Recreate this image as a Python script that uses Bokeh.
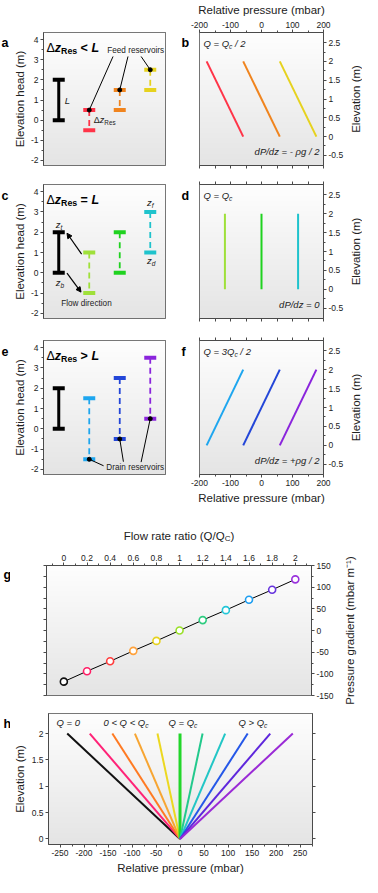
import numpy as np
from bokeh.plotting import figure
from bokeh.models import Range1d, LinearAxis, FixedTicker, Label, Arrow, NormalHead, Plot
from bokeh.layouts import column, row
from bokeh.embed import file_html
from bokeh.resources import INLINE

FONT = "Liberation Sans"
INK = "#222222"
FRAME = "#4a4a4a"
HAS_FRAME_ALIGN = "frame_align" in Plot.properties()

# ---------------- data ----------------
# a, c, e : channel (black I-beam) and reservoir pairs -- elevation head (m)
channel_pos = [1]
channel_bottom = [0]
channel_top = [2]
reservoir_pos = [2, 3, 4]
a_feed = [0.5, 1.5, 2.5]
a_drain = [-0.5, 0.5, 1.5]
c_feed = [1, 2, 3]
c_drain = [-1, 0, 1]
e_feed = [1.5, 2.5, 3.5]
e_drain = [-1.5, -0.5, 0.5]
a_colors = ["#ff3448", "#f0841e", "#e6d21e"]
c_colors = ["#9fe03a", "#1fd21f", "#1fc3cc"]
e_colors = ["#1ea6ef", "#2346d8", "#8a24dc"]
head_ticks = [-2, -1, 0, 1, 2, 3, 4]
head_labels = ["-2", "-1", "0", "1", "2", "3", "4"]
head_minor = [-1.5, -0.5, 0.5, 1.5, 2.5, 3.5]

# annotation anchors (data units of panels a, c, e)
feed_text_xy = (2.59, 3.48)
feed_ptr_x = [2.78, 3.27, 3.70]
feed_ptr_y = [3.16, 3.16, 3.16]
drain_text_xy = (2.56, -1.90)
drain_ptr_x = [2.47, 3.12, 3.70]
drain_ptr_y = [-1.82, -1.62, -1.64]
flow_arrow_start = [(1.75, 0.92), (1.27, -0.02)]
flow_arrow_end = [(1.27, 1.95), (1.73, -0.95)]

# b, d, f : pressure profiles along the channel (mbar) at z = 0 and z = 2 m
profile_z = [0, 2]
b_p_bottom = [-59, 59, 177]
b_p_top = [-177, -59, 59]
d_p_bottom = [-118, 0, 118]
d_p_top = [-118, 0, 118]
f_p_bottom = [-177, -59, 59]
f_p_top = [-59, 59, 177]
press_ticks = [-200, -100, 0, 100, 200]
press_labels = ["-200", "-100", "0", "100", "200"]
press_minor = [-150, -50, 50, 150]
elev_ticks = [-0.5, 0, 0.5, 1, 1.5, 2, 2.5]
elev_labels = ["-0.5", "0", "0.5", "1", "1.5", "2", "2.5"]
elev_minor = [-0.25, 0.25, 0.75, 1.25, 1.75, 2.25]

# g : pressure gradient vs flow-rate ratio
flow_ratio = [0, 0.2, 0.4, 0.6, 0.8, 1.0, 1.2, 1.4, 1.6, 1.8, 2.0]
gradient = [-118, -94, -71, -47, -24, 0, 24, 47, 71, 94, 118]
g_colors = ["#111111", "#ff1f66", "#ff3d3d", "#ffa23c", "#e6d21e", "#9ae02a",
            "#2fcc80", "#22c6d8", "#1e9ef0", "#6633dd", "#9a33dd"]
ratio_ticks = [0, 0.2, 0.4, 0.6, 0.8, 1.0, 1.2, 1.4, 1.6, 1.8, 2.0]
ratio_labels = ["0", "0.2", "0.4", "0.6", "0.8", "1", "1.2", "1.4", "1.6", "1.8", "2"]
ratio_minor = [-0.1, 0.1, 0.3, 0.5, 0.7, 0.9, 1.1, 1.3, 1.5, 1.7, 1.9, 2.1]
grad_ticks = [-150, -100, -50, 0, 50, 100, 150]
grad_labels = ["-150", "-100", "-50", "0", "50", "100", "150"]
grad_minor = [-125, -75, -25, 25, 75, 125]

# h : pressure profiles (0 at z = 0 m, value at z = 2 m)
h_bottom_pressure = [0, 0, 0, 0, 0, 0, 0, 0, 0, 0, 0]
h_top_pressure = [-235, -188, -141, -94, -47, 0, 47, 94, 141, 188, 235]
h_colors = ["#111111", "#ff2277", "#ff7a22", "#f7a532", "#ecd820", "#22d62a",
            "#22c98c", "#22c6c6", "#2457e8", "#5e26dc", "#9a2ad6"]
h_widths = [2, 2, 2, 2, 2, 3, 2, 2, 2, 2, 2]
hx_ticks = [-250, -200, -150, -100, -50, 0, 50, 100, 150, 200, 250]
hx_labels = ["-250", "-200", "-150", "-100", "-50", "0", "50", "100", "150", "200", "250"]
hx_minor = [-225, -175, -125, -75, -25, 25, 75, 125, 175, 225, 275]
hy_ticks = [0, 0.5, 1, 1.5, 2]
hy_labels = ["0", "0.5", "1", "1.5", "2"]

# ---------------- helpers ----------------
W = {' ': 278, '(': 333, ')': 333, '+': 584, '-': 333, '/': 278, '.': 278,
     '<': 584, '=': 584, '>': 584, 'C': 722, 'D': 722, 'F': 611, 'L': 556,
     'P': 667, 'Q': 778, 'R': 722, 'a': 556, 'b': 556, 'c': 500, 'd': 556,
     'e': 556, 'f': 278, 'g': 556, 'i': 222, 'l': 222, 'm': 833, 'n': 556,
     'o': 556, 'r': 333, 's': 500, 't': 278, 'u': 556, 'v': 500, 'w': 722,
     'z': 500, 'Δ': 668, 'ρ': 578}
WB = dict(W, L=611, s=556, r=389, i=278, l=278, t=333, c=556)
for d_ in "0123456789":
    W[d_] = 556
    WB[d_] = 556


def tw(s, size, bold=False):
    tab = WB if bold else W
    return sum(tab.get(ch, 556) for ch in s) * size / 1000.0


STY = {"n": "normal", "": "normal", "i": "italic", "b": "bold", "bi": "bold italic"}


def rich(p, x, y, parts, size, dx=0.0, dy=0.0, align="left", color=INK):
    items = []
    for text, kind in parts:
        sub = kind.startswith("sub")
        base = kind[3:] if sub else kind
        fs = size * 0.7 if sub else size
        bold = "b" in base
        core = text.strip(" ")
        lead = (len(text) - len(text.lstrip(" "))) * tw(" ", fs, bold)
        trail = (len(text) - len(text.rstrip(" "))) * tw(" ", fs, bold)
        items.append((core, fs, base, sub, lead, tw(core, fs, bold), trail))
    total = sum(it[4] + it[5] + it[6] for it in items)
    cur = dx - (total if align == "right" else total / 2 if align == "center" else 0)
    for core, fs, base, sub, lead, wcore, trail in items:
        cur += lead
        if core:
            p.add_layout(Label(x=x, y=y, x_offset=cur,
                               y_offset=dy - (0.3 * size if sub else 0),
                               text=core, text_font=FONT,
                               text_font_size=f"{fs:.1f}px",
                               text_font_style=STY[base], text_color=color,
                               text_align="left", text_baseline="middle"))
        cur += wcore + trail


def base_fig(w, h, bl, br, bt, bb, xr, yr):
    kw = {}
    if HAS_FRAME_ALIGN:
        kw["frame_align"] = False
    p = figure(width=w, height=h, x_range=Range1d(*xr), y_range=Range1d(*yr),
               x_axis_location=None, y_axis_location=None, title_location=None,
               output_backend="svg", toolbar_location=None,
               min_border_left=bl, min_border_right=br,
               min_border_top=bt, min_border_bottom=bb, **kw)
    p.grid.visible = False
    p.background_fill_color = "white"
    p.border_fill_color = "white"
    return p


def letter_fig(w, h, bt, bb, ch, x, below_top):
    fh_ = h - bt - bb
    p = base_fig(w, h, 0, 0, bt, bb, (0, w), (0, fh_))
    p.outline_line_color = None
    p.add_layout(Label(x=x, y=fh_ - below_top, text=ch, text_font=FONT,
                       text_font_size="12.5px", text_font_style="bold",
                       text_color="black", text_align="left", text_baseline="middle"))
    return p


def vlabel_fig(w, h, bt, bb, text, standoff):
    # a one-pixel frame whose left axis carries the (bottom-to-top) label
    p = base_fig(w, h, w - 1, 0, bt, bb, (0, 1), (0, 1))
    p.outline_line_color = None
    ax = LinearAxis(ticker=FixedTicker(ticks=[], minor_ticks=[]))
    ax.axis_line_color = None
    ax.major_tick_out = 0
    ax.major_tick_in = 0
    ax.minor_tick_out = 0
    ax.minor_tick_in = 0
    ax.major_label_standoff = 0
    ax.axis_label = text
    ax.axis_label_text_font = FONT
    ax.axis_label_text_font_size = "11.5px"
    ax.axis_label_text_font_style = "normal"
    ax.axis_label_text_color = INK
    ax.axis_label_standoff = standoff
    p.add_layout(ax, "left")
    return p


def make_fig(w, h, bl, br, bt, bb, xr, yr):
    p = base_fig(w, h, bl, br, bt, bb, xr, yr)
    p.outline_line_color = FRAME
    p.outline_line_width = 1
    # vertical light-grey gradient in the frame
    n = 128
    g = np.linspace(229, 254, n).astype(np.uint8)
    img = np.zeros((n, 1), dtype=np.uint32)
    v = img.view(dtype=np.uint8).reshape((n, 1, 4))
    v[:, 0, 0] = g
    v[:, 0, 1] = g
    v[:, 0, 2] = g
    v[:, 0, 3] = 255
    p.image_rgba(image=[img], x=xr[0], y=yr[0], dw=xr[1] - xr[0], dh=yr[1] - yr[0])
    return p


def add_axis(p, side, ticks, minor, labels=None, title=None, standoff=3):
    if labels is None:
        ax = LinearAxis(ticker=FixedTicker(ticks=[], minor_ticks=sorted(list(ticks) + list(minor))))
    else:
        ax = LinearAxis(ticker=FixedTicker(ticks=ticks, minor_ticks=minor))
        ax.major_label_overrides = {t: l for t, l in zip(ticks, labels)}
    ax.axis_line_color = FRAME
    ax.major_tick_line_color = FRAME
    ax.minor_tick_line_color = FRAME
    ax.major_tick_in = 0
    ax.major_tick_out = 3
    ax.minor_tick_in = 0
    ax.minor_tick_out = 2 if labels is not None else 3
    ax.major_label_text_font = FONT
    ax.major_label_text_color = INK
    ax.major_label_text_font_size = "8.5px"
    ax.major_label_standoff = 2
    if title:
        ax.axis_label = title
        ax.axis_label_text_font = FONT
        ax.axis_label_text_font_size = "11.5px"
        ax.axis_label_text_font_style = "normal"
        ax.axis_label_text_color = INK
        ax.axis_label_standoff = standoff
    p.add_layout(ax, side)
    return ax


LEFT_XR = (0.5, 4.5)
LEFT_YR = (-2.25, 4.35)
RIGHT_XR = (-200, 200)
RIGHT_YR = (-0.77, 2.77)


def reservoir_panel(height, bt, bb, feed, drain, colors, relation):
    p = make_fig(159, height, 29, 4, bt, bb, LEFT_XR, LEFT_YR)
    add_axis(p, "left", head_ticks, head_minor, head_labels, "Elevation head (m)", standoff=2)
    p.segment(x0=channel_pos, y0=channel_bottom, x1=channel_pos, y1=channel_top,
              line_color="black", line_width=3)
    p.rect(x=channel_pos * 2, y=channel_bottom + channel_top, width=12, height=4,
           width_units="screen", height_units="screen",
           fill_color="black", line_color=None)
    p.segment(x0=reservoir_pos, y0=feed, x1=reservoir_pos, y1=drain,
              line_color=colors, line_width=1.8, line_dash="6 4")
    p.rect(x=reservoir_pos, y=feed, width=12, height=4, width_units="screen",
           height_units="screen", fill_color=colors, line_color=None)
    p.rect(x=reservoir_pos, y=drain, width=12, height=4, width_units="screen",
           height_units="screen", fill_color=colors, line_color=None)
    rich(p, LEFT_XR[0], LEFT_YR[1],
         [("Δ", "n"), ("z", "bi"), ("Res", "subb"), (f" {relation} ", "b"), ("L", "bi")],
         12.5, dx=3, dy=-15, color="black")
    return p


def profile_panel(height, bt, bb, pb, pt, colors, qparts, slope_text,
                  top_labels=False, bottom_labels=False):
    p = make_fig(157, height, 10, 21, bt, bb, RIGHT_XR, RIGHT_YR)
    add_axis(p, "above", press_ticks, press_minor,
             press_labels if top_labels else None,
             "Relative pressure (mbar)" if top_labels else None)
    add_axis(p, "below", press_ticks, press_minor,
             press_labels if bottom_labels else None,
             "Relative pressure (mbar)" if bottom_labels else None)
    add_axis(p, "right", elev_ticks, elev_minor, elev_labels)
    p.segment(x0=pb, y0=[profile_z[0]] * len(pb), x1=pt, y1=[profile_z[1]] * len(pt),
              line_color=colors, line_width=2)
    rich(p, RIGHT_XR[0], RIGHT_YR[1], qparts, 9.5, dx=4, dy=-11)
    rich(p, RIGHT_XR[1], RIGHT_YR[0], [(slope_text, "i")], 9.5, dx=-4, dy=14, align="right")
    return p


# row geometry (height, top border, bottom border)
R1 = (174, 32, 9)
R2 = (155, 10, 11)
R3 = (187, 11, 42)
RG = (162, 23, 9)
RH = (173, 9, 33)

# ---------------- panels a-f ----------------
fa = reservoir_panel(*R1, a_feed, a_drain, a_colors, "<")
rich(fa, feed_text_xy[0], feed_text_xy[1], [("Feed reservoirs", "n")], 8.2)
fa.segment(x0=feed_ptr_x, y0=feed_ptr_y, x1=reservoir_pos, y1=a_feed,
           line_color="black", line_width=1)
fa.scatter(x=reservoir_pos, y=a_feed, size=4, color="black")
rich(fa, 1.2, 1.0, [("L", "i")], 9.5)
rich(fa, 2.15, 0.0, [("Δ", "n"), ("z", "i"), ("Res", "sub")], 9)

fb = profile_panel(*R1, b_p_bottom, b_p_top, a_colors,
                   [("Q = Q", "i"), ("c", "subi"), (" / 2", "i")],
                   "dP/dz = - ρg / 2", top_labels=True)

fc = reservoir_panel(*R2, c_feed, c_drain, c_colors, "=")
rich(fc, 0.90, 2.39, [("z", "i"), ("t", "subi")], 9.5)
rich(fc, 0.90, -0.50, [("z", "i"), ("b", "subi")], 9.5)
rich(fc, 3.89, 3.45, [("z", "i"), ("f", "subi")], 9.5)
rich(fc, 3.89, 0.61, [("z", "i"), ("d", "subi")], 9.5)
rich(fc, 1.08, -1.52, [("Flow direction", "n")], 8.2)
for (xs, ys), (xe, ye) in zip(flow_arrow_start, flow_arrow_end):
    fc.add_layout(Arrow(x_start=xs, y_start=ys, x_end=xe, y_end=ye,
                        line_color="black", line_width=1.2,
                        end=NormalHead(size=5, fill_color="black", line_color="black")))

fd = profile_panel(*R2, d_p_bottom, d_p_top, c_colors,
                   [("Q = Q", "i"), ("c", "subi")], "dP/dz = 0")

fe = reservoir_panel(*R3, e_feed, e_drain, e_colors, ">")
rich(fe, drain_text_xy[0], drain_text_xy[1], [("Drain reservoirs", "n")], 8.2)
fe.segment(x0=drain_ptr_x, y0=drain_ptr_y, x1=reservoir_pos, y1=e_drain,
           line_color="black", line_width=1)
fe.scatter(x=reservoir_pos, y=e_drain, size=4, color="black")

ff = profile_panel(*R3, f_p_bottom, f_p_top, e_colors,
                   [("Q = 3Q", "i"), ("c", "subi"), (" / 2", "i")],
                   "dP/dz = +ρg / 2", bottom_labels=True)

# ---------------- panel g ----------------
G_XR = (-0.15, 2.14)
G_YR = (-150, 150)
fg = make_fig(328, RG[0], 36, 27, RG[1], RG[2], G_XR, G_YR)
add_axis(fg, "above", ratio_ticks, ratio_minor, ratio_labels)
add_axis(fg, "left", grad_ticks, grad_minor)
add_axis(fg, "right", grad_ticks, grad_minor, grad_labels)
fg.line(x=flow_ratio, y=gradient, line_color="black", line_width=1)
fg.scatter(x=flow_ratio, y=gradient, size=7, line_color=g_colors, line_width=1.6,
           fill_color="white")

tg = base_fig(362, 26, 0, 0, 0, 0, (0, 362), (0, 26))
tg.outline_line_color = None
rich(tg, 0, 26, [("Flow rate ratio (Q/Q", "n"), ("C", "sub"), (")", "n")], 11.5,
     dx=178.5, dy=-19, align="center")

# ---------------- panel h ----------------
H_XR = (-274, 276)
H_YR = (-0.105, 2.38)
fh = make_fig(352, RH[0], 36, 50, RH[1], RH[2], H_XR, H_YR)
add_axis(fh, "below", hx_ticks, hx_minor, hx_labels, "Relative pressure (mbar)")
add_axis(fh, "left", hy_ticks, [], hy_labels, "Elevation (m)")
add_axis(fh, "right", hy_ticks, [])
fh.segment(x0=h_bottom_pressure, y0=[profile_z[0]] * 11, x1=h_top_pressure,
           y1=[profile_z[1]] * 11, line_color=h_colors, line_width=h_widths)
rich(fh, H_XR[0], H_YR[1], [("Q = 0", "i")], 9.5, dx=8, dy=-9)
rich(fh, H_XR[0], H_YR[1], [("0 < Q < Q", "i"), ("c", "subi")], 9.5, dx=55, dy=-9)
rich(fh, H_XR[0], H_YR[1], [("Q = Q", "i"), ("c", "subi")], 9.5, dx=120, dy=-9)
rich(fh, H_XR[0], H_YR[1], [("Q > Q", "i"), ("c", "subi")], 9.5, dx=190, dy=-9)

layout = column(
    row(letter_fig(10, *R1, "a", 1, 10), fa, letter_fig(20, *R1, "b", 12, 10), fb,
        vlabel_fig(16, *R1, "Elevation (m)", 0)),
    row(letter_fig(10, *R2, "c", 1, 11), fc, letter_fig(20, *R2, "d", 12, 11), fd,
        vlabel_fig(16, *R2, "Elevation (m)", 0)),
    row(letter_fig(10, *R3, "e", 1, 11), fe, letter_fig(20, *R3, "f", 12, 11), ff,
        vlabel_fig(16, *R3, "Elevation (m)", 0)),
    tg,
    row(letter_fig(10, *RG, "g", 3, 9), fg,
        vlabel_fig(24, *RG, "Pressure gradient (mbar m⁻¹)", 6)),
    row(letter_fig(10, *RH, "h", 3, 10), fh),
)
open("out.html", "w").write(file_html(layout, INLINE))
